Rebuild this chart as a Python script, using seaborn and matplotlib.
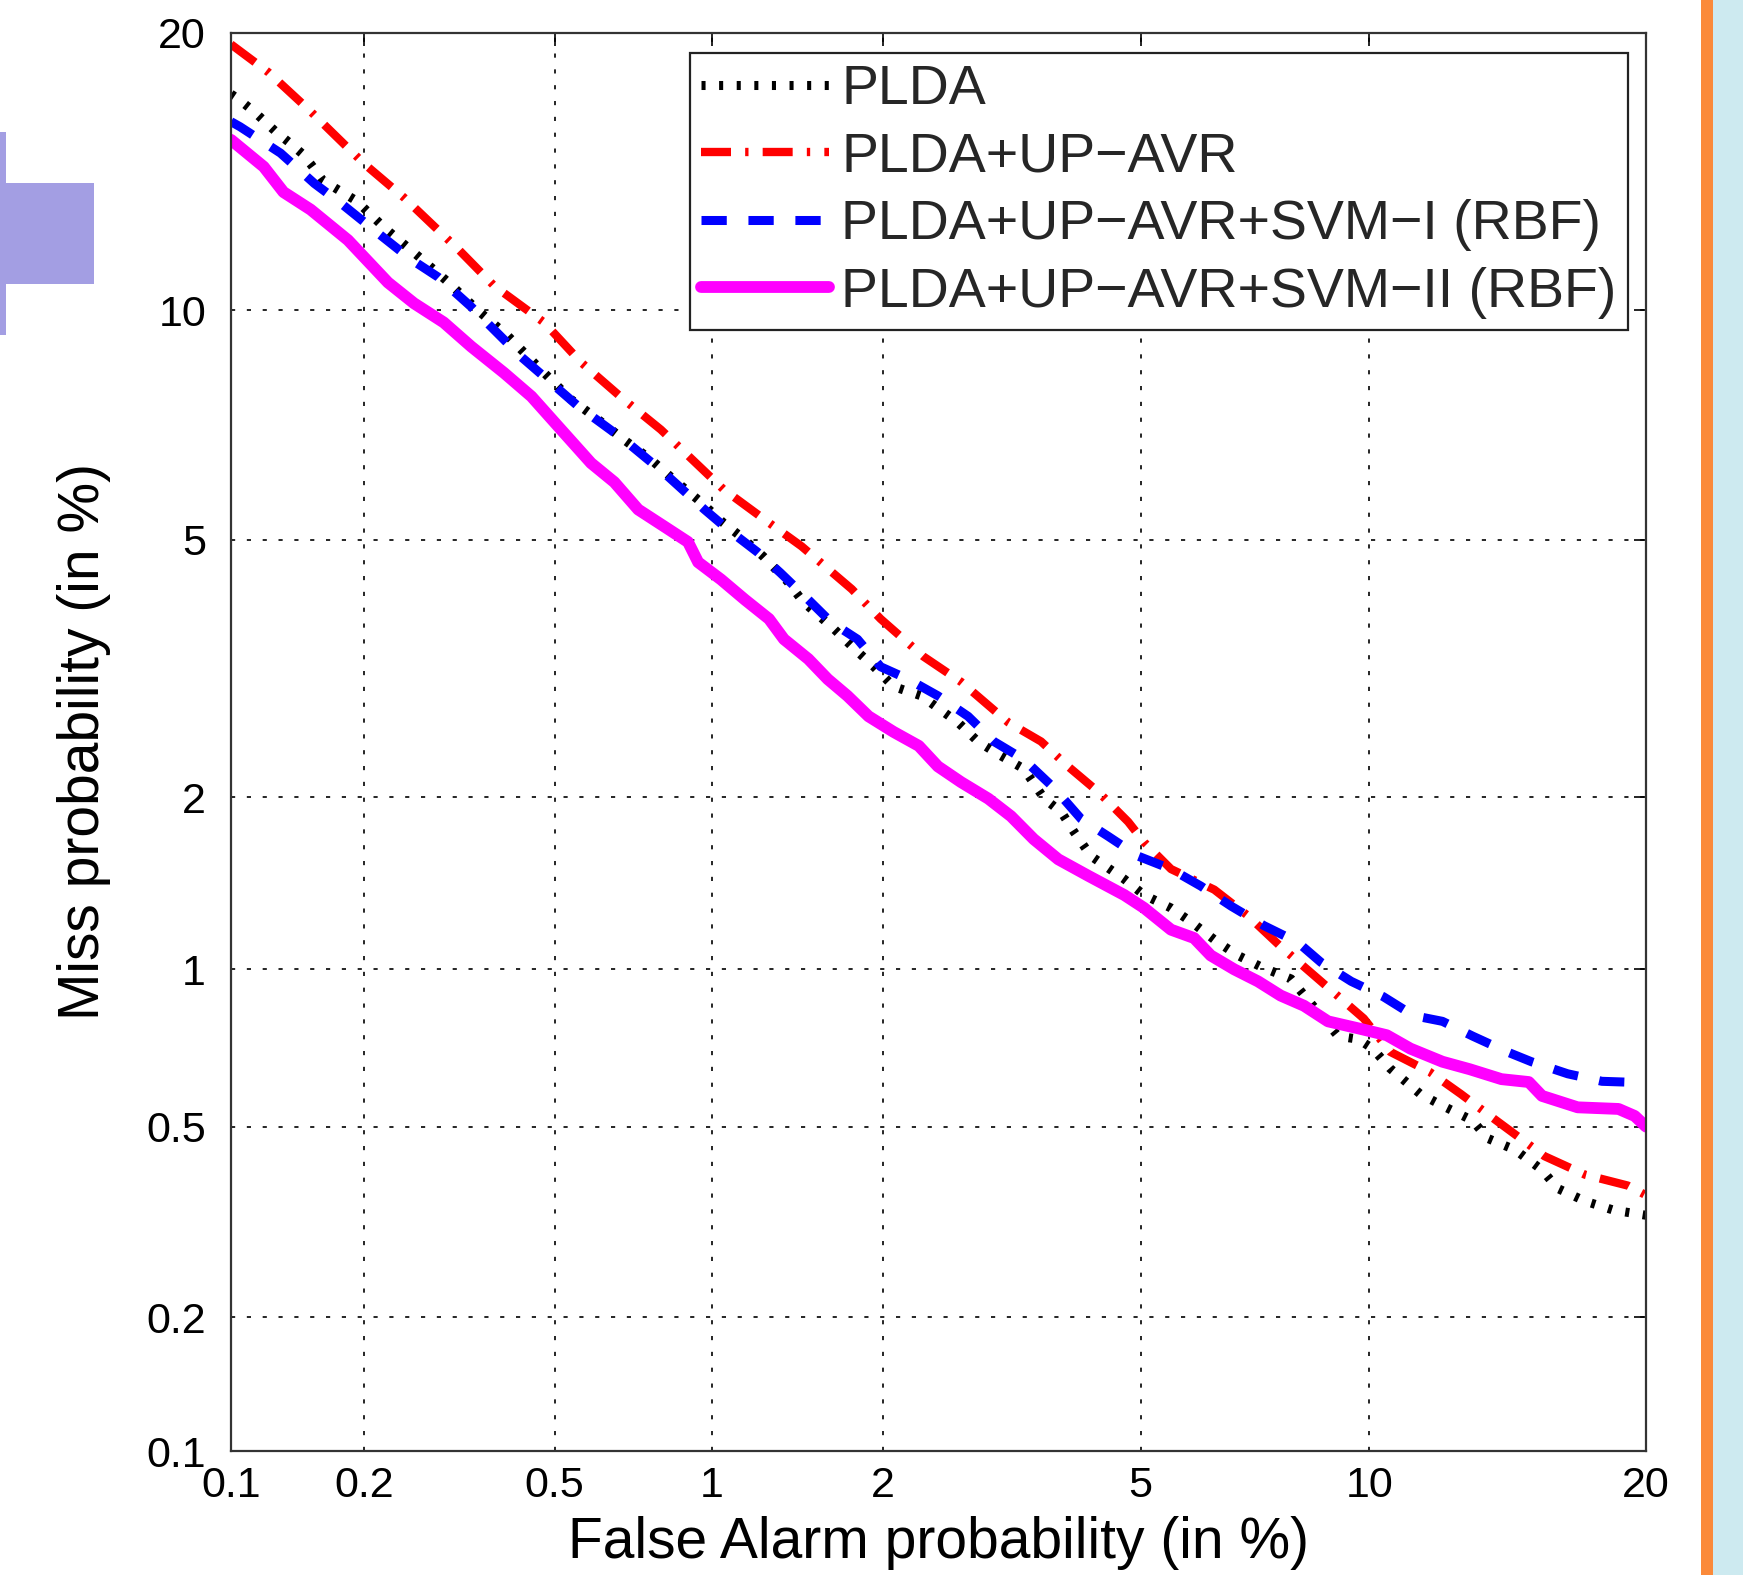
import numpy as np
import pandas as pd
import matplotlib
matplotlib.use("Agg")
import matplotlib.pyplot as plt
from matplotlib.patches import Rectangle
import seaborn as sns
from math import erf, sqrt

# ---------------- data (percent) ----------------
plda_fa = [0.10, 0.104, 0.113, 0.127, 0.136, 0.145, 0.152, 0.162, 0.192, 0.221, 0.261, 0.303, 0.349,
           0.402, 0.463, 0.539, 0.609, 0.683, 0.77, 0.85, 0.956, 1.05, 1.13, 1.24, 1.37, 1.46, 1.65,
           1.79, 1.93, 2.08, 2.31, 2.65, 2.85, 3.10, 3.36, 3.61, 3.83, 4.00, 4.24, 4.74, 5.06, 5.52,
           5.88, 6.40, 6.81, 7.31, 7.99, 8.23, 9.16, 9.70, 10.1, 10.6, 11.5, 12.2, 13.2, 13.7, 14.7,
           15.7, 16.3, 17.4, 18.6, 20.0]
plda_miss = [17.4, 17.2, 16.7, 15.9, 15.5, 15.1, 14.7, 14.1, 13.4, 12.5, 11.6, 10.8, 10.0,
             9.31, 8.52, 7.74, 7.29, 6.86, 6.45, 6.06, 5.64, 5.28, 5.05, 4.73, 4.35, 4.06, 3.70,
             3.45, 3.24, 3.02, 2.92, 2.65, 2.47, 2.34, 2.23, 1.99, 1.89, 1.75, 1.59, 1.45, 1.36, 1.29,
             1.22, 1.12, 1.06, 1.01, 0.96, 0.91, 0.75, 0.74, 0.71, 0.65, 0.58, 0.55, 0.514, 0.474, 0.449,
             0.409, 0.375, 0.353, 0.338, 0.330]

avr_fa = [0.10, 0.122, 0.15, 0.20, 0.244, 0.318, 0.377, 0.476, 0.564, 0.683, 0.804, 1.05, 1.27, 1.45,
          1.77, 1.98, 2.33, 2.68, 3.18, 3.57, 3.92, 4.35, 4.80, 5.06, 5.52, 6.33, 7.02, 7.75, 8.65,
          9.85, 10.6, 11.8, 12.8, 13.9, 15.8, 17.4, 19.2, 20.0]
avr_miss = [19.5, 18.3, 16.8, 14.7, 13.5, 11.8, 10.7, 9.67, 8.63, 7.74, 7.07, 5.88, 5.28, 4.89,
            4.24, 3.83, 3.36, 3.07, 2.65, 2.47, 2.25, 2.04, 1.82, 1.68, 1.51, 1.39, 1.25, 1.10, 0.96,
            0.81, 0.70, 0.64, 0.58, 0.52, 0.436, 0.40, 0.38, 0.363]

svm1_fa = [0.10, 0.105, 0.130, 0.155, 0.178, 0.215, 0.252, 0.288, 0.338, 0.377, 0.428, 0.491, 0.556,
           0.683, 0.815, 0.97, 1.07, 1.21, 1.33, 1.49, 1.63, 1.81, 1.98, 2.20, 2.46, 2.75, 3.02, 3.36,
           3.74, 4.10, 4.49, 4.96, 5.52, 6.07, 6.67, 7.37, 8.15, 8.72, 9.51, 10.4, 11.3, 12.2, 13.2,
           14.4, 15.3, 16.7, 18.1, 20.0]
svm1_miss = [16.3, 16.1, 15.1, 14.0, 13.3, 12.3, 11.5, 10.96, 10.1, 9.47, 8.77, 8.14, 7.59,
             6.86, 6.19, 5.51, 5.17, 4.80, 4.48, 4.09, 3.79, 3.57, 3.24, 3.10, 2.92, 2.71, 2.47, 2.31,
             2.07, 1.84, 1.72, 1.59, 1.51, 1.41, 1.30, 1.20, 1.12, 1.03, 0.95, 0.89, 0.82, 0.80, 0.75,
             0.70, 0.67, 0.635, 0.614, 0.61]

svm2_fa = [0.10, 0.119, 0.132, 0.152, 0.184, 0.225, 0.256, 0.296, 0.338, 0.395, 0.449, 0.508, 0.59,
           0.655, 0.728, 0.815, 0.904, 0.944, 1.04, 1.15, 1.27, 1.35, 1.49, 1.61, 1.74, 1.89, 2.08,
           2.29, 2.46, 2.68, 2.96, 3.21, 3.48, 3.79, 4.20, 4.74, 5.06, 5.52, 5.94, 6.26, 6.73, 7.24,
           7.75, 8.30, 8.90, 9.70, 10.5, 11.2, 12.2, 13.1, 14.2, 15.2, 15.7, 17.1, 18.8, 19.5, 20.0]
svm2_miss = [15.6, 14.6, 13.7, 13.1, 12.1, 10.8, 10.2, 9.67, 9.03, 8.37, 7.81, 7.14, 6.38,
             6.01, 5.51, 5.22, 4.96, 4.64, 4.38, 4.09, 3.83, 3.57, 3.33, 3.10, 2.92, 2.71, 2.56,
             2.43, 2.25, 2.12, 1.99, 1.86, 1.70, 1.57, 1.47, 1.36, 1.29, 1.18, 1.14, 1.06, 1.00, 0.95,
             0.894, 0.856, 0.80, 0.776, 0.753, 0.71, 0.67, 0.648, 0.62, 0.612, 0.575, 0.546, 0.542, 0.525, 0.50]

labels = ["PLDA", "PLDA+UP\u2212AVR", "PLDA+UP\u2212AVR+SVM\u2212I (RBF)", "PLDA+UP\u2212AVR+SVM\u2212II (RBF)"]
tick_vals = [0.1, 0.2, 0.5, 1, 2, 5, 10, 20]
tick_text = ["0.1", "0.2", "0.5", "1", "2", "5", "10", "20"]

# ---------------- probit (normal deviate) scale ----------------
_a = [-3.969683028665376e+01, 2.209460984245205e+02, -2.759285104469687e+02,
      1.383577518672690e+02, -3.066479806614716e+01, 2.506628277459239e+00]
_b = [-5.447609879822406e+01, 1.615858368580409e+02, -1.556989798598866e+02,
      6.680131188771972e+01, -1.328068155288572e+01]
_c = [-7.784894002430293e-03, -3.223964580411365e-01, -2.400758277161838e+00,
      -2.549671348042393e+00, 4.374664141464968e+00, 2.938163982698783e+00]
_d = [7.784695709041462e-03, 3.224671290700398e-01, 2.445134137142996e+00,
      3.754408661907416e+00]


def _ppf(p):
    p = np.clip(np.asarray(p, dtype=float), 1e-12, 1 - 1e-12)
    plow = 0.02425
    out = np.empty_like(p)
    lo = p < plow
    hi = p > 1 - plow
    mid = ~(lo | hi)
    q = np.sqrt(-2 * np.log(p[lo]))
    out[lo] = (((((_c[0]*q+_c[1])*q+_c[2])*q+_c[3])*q+_c[4])*q+_c[5]) / \
              ((((_d[0]*q+_d[1])*q+_d[2])*q+_d[3])*q+1)
    q = np.sqrt(-2 * np.log(1 - p[hi]))
    out[hi] = -(((((_c[0]*q+_c[1])*q+_c[2])*q+_c[3])*q+_c[4])*q+_c[5]) / \
              ((((_d[0]*q+_d[1])*q+_d[2])*q+_d[3])*q+1)
    q = p[mid] - 0.5
    r = q * q
    out[mid] = (((((_a[0]*r+_a[1])*r+_a[2])*r+_a[3])*r+_a[4])*r+_a[5])*q / \
               (((((_b[0]*r+_b[1])*r+_b[2])*r+_b[3])*r+_b[4])*r+1)
    return out


_cdf_v = np.vectorize(lambda z: 0.5 * (1 + erf(z / sqrt(2))))


def fwd(pct):
    return _ppf(np.asarray(pct, dtype=float) / 100.0)


def inv(z):
    return _cdf_v(np.asarray(z, dtype=float)) * 100.0


# ---------------- figure ----------------
sns.set_theme(style="white")
plt.rcParams["font.family"] = ["Liberation Sans", "DejaVu Sans"]

W, H = 1743, 1575
fig = plt.figure(figsize=(W / 100, H / 100), dpi=100)
fig.patch.set_facecolor("white")

# slide decorations
fig.patches.append(Rectangle((0, 1 - 335 / H), 6 / W, (335 - 132) / H, transform=fig.transFigure,
                             facecolor="#a39ee3", edgecolor="none"))
fig.patches.append(Rectangle((0, 1 - 284 / H), 94 / W, (284 - 183) / H, transform=fig.transFigure,
                             facecolor="#a39ee3", edgecolor="none"))
fig.patches.append(Rectangle((1701 / W, 0), 12 / W, 1, transform=fig.transFigure,
                             facecolor="#fb8a3a", edgecolor="none"))
fig.patches.append(Rectangle((1713 / W, 0), 30 / W, 1, transform=fig.transFigure,
                             facecolor="#cdeaf0", edgecolor="none"))

ax = fig.add_axes([231 / W, 1 - 1451 / H, (1646 - 231) / W, (1451 - 33) / H])
ax.set_facecolor("white")

series = [
    (plda_fa, plda_miss, "black", 6.5, (0, (0.45, 1.5))),
    (avr_fa, avr_miss, "#ff0000", 6.0, (0, (3.6, 1.7, 0.4, 1.7))),
    (svm1_fa, svm1_miss, "#0000ff", 6.5, (0, (2.8, 2.4))),
    (svm2_fa, svm2_miss, "#ff00ff", 8.5, "-"),
]
for (fa, miss, col, lw, ls), lab in zip(series, labels):
    df = pd.DataFrame({"fa": fa, "miss": miss})
    sns.lineplot(data=df, x="fa", y="miss", ax=ax, color=col, lw=lw, linestyle=ls,
                 label=lab, estimator=None, sort=False)

ax.set_xscale("function", functions=(fwd, inv))
ax.set_yscale("function", functions=(fwd, inv))
ax.set_xlim(0.1, 20)
ax.set_ylim(0.1, 20)
ax.set_xticks(tick_vals)
ax.set_xticklabels(tick_text)
ax.set_yticks(tick_vals)
ax.set_yticklabels(tick_text)
ax.minorticks_off()

ax.grid(True, color="black", linestyle=(0, (2.5, 7)), linewidth=1.2)
ax.tick_params(axis="both", which="major", direction="in", length=9, width=1.2,
               top=True, right=True, labelsize=31, colors="black")
ax.tick_params(axis="x", pad=11)
ax.tick_params(axis="y", pad=18)
for sp in ax.spines.values():
    sp.set_visible(True)
    sp.set_color("#333333")
    sp.set_linewidth(1.6)

ax.set_xlabel("False Alarm probability (in %)", fontsize=41, color="black")
ax.set_ylabel("Miss probability (in %)", fontsize=41, color="black")
ax.xaxis.set_label_coords(0.5, -0.046)
ax.yaxis.set_label_coords(-0.085, 0.5)

leg = ax.legend(loc="upper right", bbox_to_anchor=(0.987, 0.986), fontsize=40, frameon=True,
                fancybox=False, shadow=False, framealpha=1, edgecolor="#222222",
                handlelength=2.3, handletextpad=0.22, labelspacing=0.28, borderpad=0.2,
                borderaxespad=0)
leg.get_frame().set_linewidth(1.6)

fig.savefig("out.png", dpi=100, facecolor="white")
